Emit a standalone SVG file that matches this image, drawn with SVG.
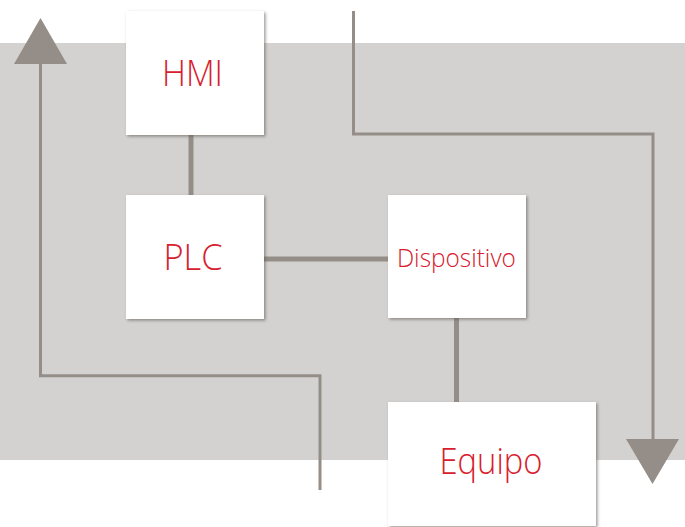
<svg xmlns="http://www.w3.org/2000/svg" width="685" height="527" viewBox="0 0 685 527">
<defs>
<filter id="sh" x="-10%" y="-10%" width="125%" height="125%">
<feDropShadow dx="1.5" dy="1.5" stdDeviation="1.5" flood-color="#5a524c" flood-opacity="0.6"/>
</filter>
<style>
.box{fill:#ffffff;filter:url(#sh);}
.lbl{fill:#d7202e;font-family:"Open Sans","Noto Sans",sans-serif;font-weight:300;text-anchor:middle;}
.thick{stroke:#958e88;stroke-width:5;fill:none;}
.thin{stroke:#958e88;stroke-width:3;fill:none;}
.head{fill:#958e88;}
</style>
</defs>
<rect x="0" y="43" width="685" height="417" fill="#d3d2d0"/>
<g id="connectors">
<line class="thick" x1="191" y1="135" x2="191" y2="195"/>
<line class="thick" x1="264" y1="259" x2="388" y2="259"/>
<line class="thick" x1="456.5" y1="318" x2="456.5" y2="402"/>
<polyline class="thin" points="320,490 320,375.7 40.5,375.7 40.5,60"/>
<polygon class="head" points="40.5,18 14,64 67,64"/>
<polyline class="thin" points="353.5,11 353.5,134 653,134 653,445"/>
<polygon class="head" points="652.5,484 626,439 679,439"/>
</g>
<g id="hmi">
<rect class="box" x="126" y="11" width="138" height="124"/>
<text class="lbl" x="192.5" y="86" font-size="37" textLength="61" lengthAdjust="spacingAndGlyphs">HMI</text>
</g>
<g id="plc">
<rect class="box" x="126" y="195" width="138" height="124"/>
<text class="lbl" x="193" y="270" font-size="37" textLength="59" lengthAdjust="spacingAndGlyphs">PLC</text>
</g>
<g id="dispositivo">
<rect class="box" x="388" y="195" width="138" height="123"/>
<text class="lbl" x="456.4" y="266.5" font-size="26.5" textLength="119" lengthAdjust="spacingAndGlyphs">Dispositivo</text>
</g>
<g id="equipo">
<rect class="box" x="388" y="402" width="208" height="124"/>
<text class="lbl" x="491" y="474" font-size="36" textLength="103" lengthAdjust="spacingAndGlyphs">Equipo</text>
</g>
</svg>
